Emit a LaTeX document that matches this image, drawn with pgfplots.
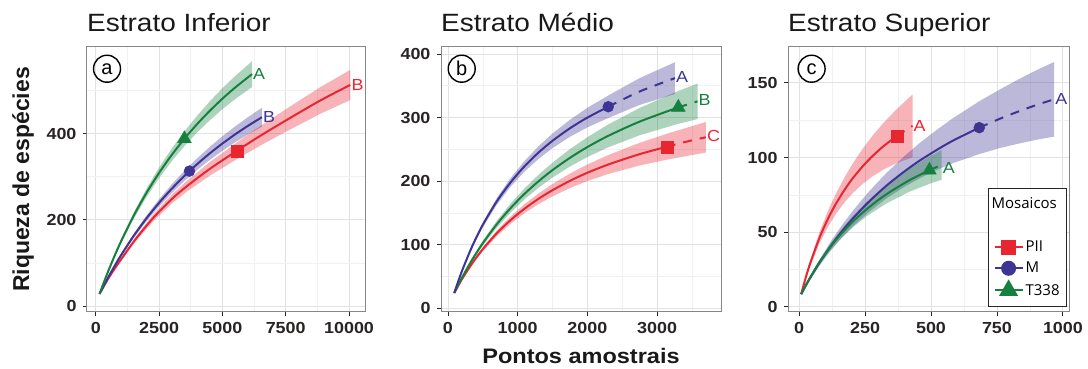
\documentclass[border=0pt]{standalone}
\usepackage{pgfplots}
\pgfplotsset{compat=1.18}
\usepackage{fontspec}
\setmainfont[FakeStretch=1.12]{Liberation Sans}
\newfontfamily\plainfont{Liberation Sans}
\newfontfamily\legfont{Open Sans}
\definecolor{cR}{RGB}{232,38,50}
\definecolor{cM}{RGB}{62,52,148}
\definecolor{cT}{RGB}{22,128,62}
\definecolor{gridmaj}{RGB}{226,226,226}
\definecolor{gridmin}{RGB}{241,241,241}
\definecolor{framec}{RGB}{135,135,135}
\definecolor{tickc}{RGB}{40,36,36}
\pgfplotsset{
  panel/.style={
    scale only axis, anchor=south west, clip=false,
    axis line style={framec, line width=1pt},
    tick pos=left, tick align=outside,
    major tick length=4pt, minor tick length=0pt,
    tick style={tickc, line width=0.9pt},
    grid=both,
    major grid style={gridmaj, line width=0.9pt},
    minor grid style={gridmin, line width=0.6pt},
    ticklabel style={font=\fontsize{16}{16}\selectfont\bfseries, text=tickc},
    xticklabel style={yshift=-3pt},
    yticklabel style={xshift=-3pt},
    /pgf/number format/assume math mode=true,
    /pgf/number format/set thousands separator={},
    scaled ticks=false,
  },
  ribbon/.style={draw=none, fill=#1, fill opacity=0.35, forget plot},
  curve/.style={#1, line width=2pt, forget plot, no marks, smooth},
  dcurve/.style={#1, line width=2pt, forget plot, no marks, smooth, dash pattern=on 9pt off 8pt},
  sq/.style={only marks, forget plot, mark=square*, mark size=6pt, color=cR},
  ci/.style={only marks, forget plot, mark=*, mark size=5.5pt, color=cM},
  tr/.style={only marks, forget plot, mark=triangle*, mark size=8pt, color=cT},
}
\newcommand{\lab}[4]{\node[anchor=west, inner sep=1pt, text=#1, font=\fontsize{16}{16}\selectfont] at (axis cs:#2,#3) {#4};}
\newcommand{\circlab}[2]{\node[circle, draw=black, line width=1.4pt, inner sep=0pt, minimum size=27pt, font=\plainfont\fontsize{20}{20}\selectfont] at (rel axis cs:#1,0.918) {#2};}
\newcommand{\ptitle}[1]{\node[anchor=base west, inner sep=0pt, text=black!90, font=\fontsize{25}{25}\selectfont] at (rel axis cs:0,1) [yshift=15pt] {#1};}
\begin{document}
\begin{tikzpicture}
\useasboundingbox (0,0) rectangle (1088pt,369pt);
% ---------------- Panel a
\begin{axis}[panel, at={(87pt,57pt)}, width=278pt, height=265pt,
  xmin=-345, xmax=10630, ymin=-14, ymax=601,
  xtick={0,2500,5000,7500,10000}, minor xtick={1250,3750,6250,8750},
  ytick={0,200,400}, minor ytick={100,300,500},
  ylabel={Riqueza de espécies},
  ylabel style={font=\plainfont\bfseries\fontsize{23}{23}\selectfont, text=black!90, at={(axis description cs:-0.23,0.5)}, anchor=center},
]
\addplot[ribbon=cR] coordinates {(150,28.5)(500,65.7)(962,108.4)(1600,162.6)(2280,212.9)(3000,258.4)(3600,290.5)(4500,333.7)(5570,379.4)(6500,417.6)(7550,458.3)(8870,507.9)(10050,548)
 (10050,478)(8870,446.1)(7550,405.7)(6500,372.4)(5570,340.6)(4500,302.3)(3600,265.5)(3000,237.6)(2280,197.1)(1600,151.4)(962,101.6)(500,62.3)(150,27.5)};
\addplot[ribbon=cM] coordinates {(150,28.5)(400,57.7)(700,90.6)(1000,121.3)(1500,167.8)(2000,209.8)(2500,247.7)(3000,282.1)(3500,313.5)(4000,342.4)(4500,369.1)(5000,393.7)(5500,416.5)(6000,437.8)(6560,460)
 (6560,416)(6000,397.6)(5500,379.7)(5000,360.1)(4500,338.9)(4000,315.6)(3500,290.1)(3000,261.9)(2500,230.9)(2000,196.4)(1500,157.8)(1000,114.5)(700,86)(400,55.1)(150,27.5)};
\addplot[ribbon=cT] coordinates {(150,28.7)(400,68.9)(700,113.7)(1000,154.9)(1500,216.9)(2000,271.8)(2500,321)(3000,365.1)(3500,405)(4000,441.3)(4500,474.6)(5000,505.2)(5500,533.4)(6170,568)
 (6170,508)(5500,480)(5000,456.6)(4500,430.8)(4000,402.5)(3500,371)(3000,335.9)(2500,296.6)(2000,252.4)(1500,202.3)(1000,145.1)(700,106.9)(400,65.1)(150,27.3)};
\addplot[curve=cR] coordinates {(150,28)(500,64)(962,105)(1600,157)(2280,205)(3000,248)(3600,278)(4500,318)(5570,360)(6500,395)(7550,432)(8870,477)(10050,513)};
\addplot[curve=cM] coordinates {(150,28)(400,56.4)(700,88.3)(1000,117.9)(1500,162.8)(2000,203.1)(2500,239.3)(3000,272)(3500,301.8)(4000,329)(4500,354)(5000,376.9)(5500,398.1)(6000,417.7)(6560,438)};
\addplot[curve=cT] coordinates {(150,28)(400,67)(700,110.3)(1000,150)(1500,209.6)(2000,262.1)(2500,308.8)(3000,350.5)(3500,388)(4000,421.9)(4500,452.7)(5000,480.9)(5500,506.7)(6170,538)};
\addplot[sq] coordinates {(5570,360)};
\addplot[ci] coordinates {(3700,313)};
\addplot[tr] coordinates {(3500,388)};
\lab{cT}{6170}{538}{A}
\lab{cM}{6560}{438}{B}
\lab{cR}{10050}{513}{B}
\circlab{0.072}{a}
\ptitle{Estrato Inferior}
\end{axis}
% ---------------- Panel b
\begin{axis}[panel, at={(441pt,57pt)}, width=280pt, height=265pt,
  xmin=-100, xmax=3917, ymin=-6, ymax=411,
  xtick={0,1000,2000,3000}, minor xtick={500,1500,2500,3500},
  ytick={0,100,200,300,400}, minor ytick={50,150,250,350},
  xlabel={Pontos amostrais},
  xlabel style={font=\bfseries\fontsize{21}{21}\selectfont, text=black!90, at={(axis description cs:0.5,0)}, anchor=base, yshift=-52pt},
]
\addplot[ribbon=cR] coordinates {(90,24.6)(200,46.8)(350,73.3)(500,96.1)(700,122.3)(900,144.6)(1100,163.8)(1300,180.6)(1500,195.4)(1750,211.8)(2000,226.1)(2300,241)(2750,260.2)(3138,274.4)(3700,293)
 (3700,245)(3138,233.6)(2750,224.6)(2300,211.2)(2000,200.1)(1750,189)(1500,176)(1300,163.8)(1100,149.6)(900,133)(700,113.3)(500,89.7)(350,68.7)(200,44.2)(90,23.4)};
\addplot[ribbon=cT] coordinates {(90,24.7)(200,49.4)(350,79.5)(500,106.2)(700,137.5)(900,164.7)(1100,188.7)(1300,210)(1500,229)(1750,250.3)(2000,269.1)(2300,289.2)(2750,315.1)(3305,341.8)(3580,353.5)
 (3580,297.5)(3305,290.2)(2750,272.1)(2300,253.2)(2000,237.9)(1750,222.9)(1500,205.6)(1300,189.6)(1100,171.5)(900,150.7)(700,126.5)(500,98.4)(350,74.1)(200,46.2)(90,23.3)};
\addplot[ribbon=cM] coordinates {(90,24.7)(200,59.8)(350,100.7)(500,135)(700,173.4)(900,205.1)(1100,231.9)(1300,255)(1500,274.9)(1750,296.5)(2000,315.3)(2300,334.7)(2750,362.1)(3257,387)
 (3257,337)(2750,319.9)(2300,299.3)(2000,284.5)(1750,269.7)(1500,251.9)(1300,235)(1100,215.1)(900,191.3)(700,162.6)(500,127.4)(350,95.3)(200,56.8)(90,23.3)};
\addplot[curve=cR] coordinates {(90,24)(200,45.5)(350,71)(500,92.9)(700,117.8)(900,138.8)(1100,156.7)(1300,172.2)(1500,185.7)(1750,200.4)(2000,213.1)(2300,226.1)(2750,242.4)(3138,254)};
\addplot[dcurve=cR] coordinates {(3138,254)(3420,262)(3700,269)};
\addplot[curve=cT] coordinates {(90,24)(200,47.8)(350,76.8)(500,102.3)(700,132)(900,157.7)(1100,180.1)(1300,199.8)(1500,217.3)(1750,236.6)(2000,253.5)(2300,271.2)(2750,293.6)(3305,316)};
\addplot[dcurve=cT] coordinates {(3305,316)(3580,325.5)};
\addplot[curve=cM] coordinates {(90,24)(200,58.3)(350,98)(500,131.2)(700,168)(900,198.2)(1100,223.5)(1300,245)(1500,263.4)(1750,283.1)(2000,299.9)(2300,317)};
\addplot[dcurve=cM] coordinates {(2300,317)(2750,341)(3257,362)};
\addplot[sq] coordinates {(3138,254)};
\addplot[ci] coordinates {(2300,317)};
\addplot[tr] coordinates {(3305,316)};
\lab{cM}{3257}{364}{A}
\lab{cT}{3580}{328}{B}
\lab{cR}{3700}{271}{C}
\circlab{0.074}{b}
\ptitle{Estrato Médio}
\end{axis}
% ---------------- Panel c
\begin{axis}[panel, at={(788pt,57pt)}, width=281pt, height=265pt,
  xmin=-42, xmax=1023, ymin=-3.4, ymax=174,
  xtick={0,250,500,750,1000}, minor xtick={125,375,625,875},
  ytick={0,50,100,150}, minor ytick={25,75,125},
  legend style={at={(rel axis cs:0.993,0.019)}, anchor=south east, draw=black!85, line width=0.8pt,
    font=\legfont\fontsize{15}{15}\selectfont, row sep=5pt, inner xsep=5pt, inner ysep=8pt, fill=white},
  legend cell align=left,
  legend image code/.code={\draw[mark repeat=2,mark phase=2] plot coordinates {(0pt,0pt)(14pt,0pt)(28pt,0pt)};},
]
\addplot[ribbon=cR] coordinates {(8,8.9)(20,17.4)(40,30.1)(77,49.9)(110,64.6)(140,76)(175,87.6)(203,95.9)(240,105.6)(279,114.7)(320,123.2)(371,132.6)(430,142.2)
 (430,100.2)(371,96.4)(320,92)(279,87.5)(240,82.2)(203,76.1)(175,70.6)(140,62.4)(110,53.8)(77,42.3)(40,26.1)(20,15.4)(8,8.1)};
\addplot[ribbon=cM] coordinates {(8,8.7)(20,13)(40,19.8)(77,31.5)(120,43.8)(160,54.1)(203,64.2)(260,76.3)(330,89.5)(400,101.1)(456,109.6)(520,118.3)(582,126.2)(683,137.7)(760,145.5)(834,152.6)(900,158.5)(967,164)
 (967,114)(900,111.9)(834,109.4)(760,106.3)(683,102.3)(582,96.2)(520,91.5)(456,86)(400,80.5)(330,72.5)(260,62.9)(203,53.8)(160,45.9)(120,37.6)(77,27.5)(40,17.8)(20,12)(8,8.3)};
\addplot[ribbon=cT] coordinates {(8,8.65)(20,13.1)(40,19.9)(77,31.3)(120,42.7)(160,52)(203,60.8)(260,70.8)(330,81.4)(418,92.5)(494,100.6)(540,105.1)
 (540,85.1)(494,82.4)(418,77.1)(330,69.2)(260,61.2)(203,53.2)(160,46)(120,38.3)(77,28.5)(40,18.5)(20,12.3)(8,8.35)};
\addplot[curve=cR] coordinates {(8,8.5)(20,16.4)(40,28.1)(77,46.1)(110,59.2)(140,69.2)(175,79.1)(203,86)(240,93.9)(279,101.1)(320,107.6)(371,114.5)};
\addplot[dcurve=cR] coordinates {(371,114.5)(430,121.2)};
\addplot[curve=cM] coordinates {(8,8.5)(20,12.5)(40,18.8)(77,29.5)(120,40.7)(160,50)(203,59)(260,69.6)(330,81)(400,90.8)(456,97.8)(520,104.9)(582,111.2)(683,120)};
\addplot[dcurve=cM] coordinates {(683,120)(760,125.9)(834,131)(900,135.2)(967,139)};
\addplot[curve=cT] coordinates {(8,8.5)(20,12.7)(40,19.2)(77,29.9)(120,40.5)(160,49)(203,57)(260,66)(330,75.3)(418,84.8)(494,91.5)};
\addplot[dcurve=cT] coordinates {(494,91.5)(540,95.1)};
\addplot[sq] coordinates {(371,114.5)};
\addplot[ci] coordinates {(683,120)};
\addplot[tr] coordinates {(494,91.5)};
\lab{cR}{430}{121}{A}
\lab{cM}{967}{139}{A}
\lab{cT}{540}{93}{A}
\circlab{0.084}{c}
\ptitle{Estrato Superior}
\addlegendimage{empty legend}
\addlegendentry{\hspace{-34pt}\raisebox{11pt}{Mosaicos}}
\addlegendimage{empty legend}
\addlegendentry{}
\addlegendimage{cR, line width=2pt, mark=square*, mark size=6.5pt}
\addlegendentry{PII}
\addlegendimage{cM, line width=2pt, mark=*, mark size=6.5pt}
\addlegendentry{M}
\addlegendimage{cT, line width=2pt, mark=triangle*, mark size=9pt}
\addlegendentry{T338}
\end{axis}
\end{tikzpicture}
\end{document}
